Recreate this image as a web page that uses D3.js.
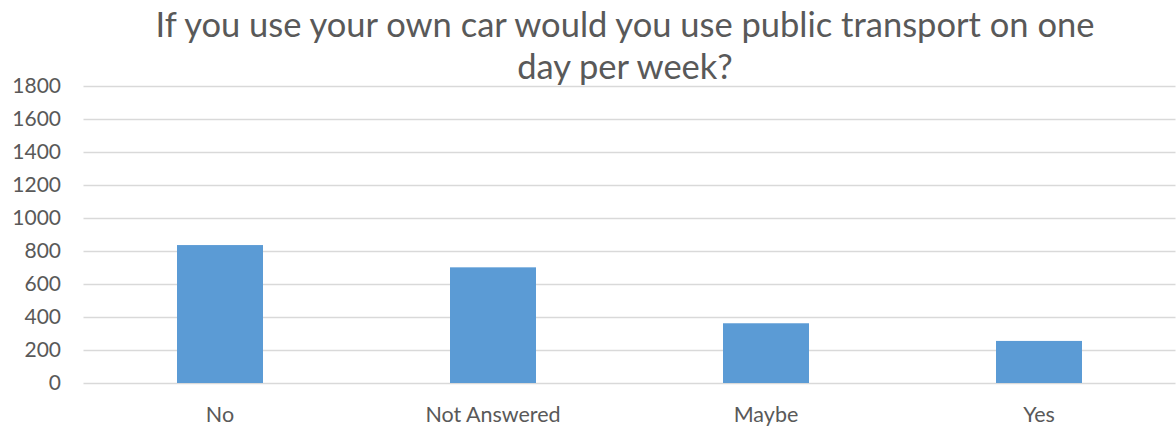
<!DOCTYPE html>
<html><head><meta charset="utf-8">
<script src="https://cdn.jsdelivr.net/npm/d3@7"></script>
<style>body{margin:0;background:#fff}svg{display:block}</style>
</head><body>
<svg id="c" width="1176" height="432"></svg>
<script>
const categories = ["No", "Not Answered", "Maybe", "Yes"];
const values = [836, 701, 362, 255];
const yTicks = [0, 200, 400, 600, 800, 1000, 1200, 1400, 1600, 1800];
const titleLines = ["If you use your own car would you use public transport on one", "day per week?"];

(function () {
const svg = d3.select("#c");
const font = "Lato, 'Open Sans', sans-serif";
const pLeft = 83.5, pRight = 1175.5, pTop = 86, pBottom = 383;
const x = d3.scaleBand().domain(categories).range([pLeft, pRight]).paddingInner(0.685).paddingOuter(0.3425);
const y = d3.scaleLinear().domain([0, 1800]).range([pBottom, pTop]);

svg.append("g").selectAll("line").data(yTicks).join("line")
  .attr("x1", pLeft).attr("x2", pRight)
  .attr("y1", d => Math.round(y(d)) + 0.5).attr("y2", d => Math.round(y(d)) + 0.5)
  .attr("stroke", "#d9d9d9").attr("stroke-width", 1.3);

const yAxis = d3.axisLeft(y).tickValues(yTicks).tickFormat(d3.format("d")).tickSize(0).tickPadding(0);
const ya = svg.append("g").attr("transform", `translate(61,0)`).call(yAxis);
ya.select(".domain").remove();
ya.selectAll("text").attr("font-family", font).attr("font-size", 21).attr("fill", "#595959");

svg.append("g").selectAll("rect").data(values).join("rect")
  .attr("x", (d, i) => x(categories[i]))
  .attr("width", x.bandwidth())
  .attr("y", d => y(d))
  .attr("height", d => y(0) - y(d))
  .attr("fill", "#5b9bd5");

const xAxis = d3.axisBottom(x).tickSize(0).tickPadding(0);
const xa = svg.append("g").attr("transform", `translate(0,${pBottom})`).call(xAxis);
xa.select(".domain").remove();
xa.selectAll("text").attr("font-family", font).attr("font-size", 21.5).attr("fill", "#595959")
  .attr("y", 38.5).attr("dy", 0);

const t = svg.append("text").attr("text-anchor", "middle").attr("font-family", font)
  .attr("font-size", 34.5).attr("fill", "#595959");
titleLines.forEach((l, i) => t.append("tspan").attr("x", 625).attr("y", 37 + i * 42).text(l));
})();
</script>
</body></html>
